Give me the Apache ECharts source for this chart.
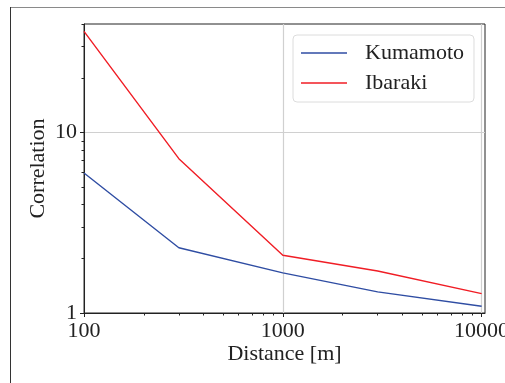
<!DOCTYPE html>
<html>
<head>
<meta charset="utf-8">
<script src="https://cdn.jsdelivr.net/npm/echarts@6/dist/echarts.min.js"></script>
<style>
  html, body { margin: 0; padding: 0; background: #fff; }
  #chart { width: 505px; height: 383px; }
</style>
</head>
<body>
<div id="chart"></div>
<script>
// distance [m] and correlation values
const distances = [100, 300, 1000, 3000, 10000];
const kumamoto = [5.97, 2.30, 1.67, 1.31, 1.09];
const ibaraki = [36.4, 7.17, 2.09, 1.71, 1.28];

const xMajor = [100, 1000, 10000];
const xMinor = [200, 300, 400, 500, 600, 700, 800, 900,
                2000, 3000, 4000, 5000, 6000, 7000, 8000, 9000];
const yMajor = [1, 10];
const yMinor = [2, 3, 4, 5, 6, 7, 8, 9, 20, 30, 40];

const font = 'Liberation Serif';
const xMin = 100, xMax = 10400, yMin = 1, yMax = 40;

const toPairs = (xs, ys) => xs.map((x, i) => [x, ys[i]]);

var myChart = echarts.init(document.getElementById('chart'));
var option = {
    animation: false,
    textStyle: { fontFamily: font },
    graphic: [
        // outer frame of the figure
        { type: 'line', shape: { x1: 10, y1: 7.5, x2: 505, y2: 7.5 }, style: { stroke: '#8a8a8a', lineWidth: 1 } },
        { type: 'line', shape: { x1: 10.5, y1: 7, x2: 10.5, y2: 383 }, style: { stroke: '#333', lineWidth: 1 } }
    ],
    grid: {
        left: 84, right: 20, top: 24, bottom: 70,
        outerBoundsMode: 'none', containLabel: false,
        show: true, borderColor: '#222', borderWidth: 1, backgroundColor: 'transparent'
    },
    legend: {
        orient: 'vertical',
        left: 293, top: 35,
        padding: [7, 10, 8, 8],
        icon: 'rect',
        itemWidth: 46, itemHeight: 1.6, itemGap: 8,
        borderColor: '#dcdcdc', borderWidth: 1, borderRadius: 4,
        backgroundColor: 'rgba(255,255,255,0.8)',
        textStyle: { fontFamily: font, fontSize: 22, color: '#222', padding: [0, 0, 0, 13] },
        data: ['Kumamoto', 'Ibaraki']
    },
    xAxis: [
        {
            type: 'log', logBase: 10, min: xMin, max: xMax,
            name: 'Distance [m]', nameLocation: 'middle', nameGap: 30, nameMoveOverlap: false,
            nameTextStyle: { fontFamily: font, fontSize: 22, color: '#222' },
            axisLine: { show: true, lineStyle: { color: '#222' } },
            axisTick: { show: true, length: 4, customValues: xMajor, lineStyle: { color: '#222' } },
            axisLabel: {
                customValues: xMajor, margin: 7, fontFamily: font, fontSize: 22, color: '#222',
                formatter: (v) => String(v)
            },
            splitLine: { show: true, lineStyle: { color: '#d0d0d0', width: 1.2 } }
        },
        {
            type: 'log', logBase: 10, min: xMin, max: xMax, position: 'bottom',
            axisLine: { show: false },
            axisTick: { show: true, length: 2.5, customValues: xMinor, lineStyle: { color: '#222' } },
            axisLabel: { show: false },
            splitLine: { show: false }
        }
    ],
    yAxis: [
        {
            type: 'log', logBase: 10, min: yMin, max: yMax,
            name: 'Correlation', nameLocation: 'middle', nameGap: 35, nameMoveOverlap: false,
            nameTextStyle: { fontFamily: font, fontSize: 22, color: '#222' },
            axisLine: { show: true, lineStyle: { color: '#222' } },
            axisTick: { show: true, length: 4, customValues: yMajor, lineStyle: { color: '#222' } },
            axisLabel: {
                customValues: yMajor, margin: 7, fontFamily: font, fontSize: 22, color: '#222',
                formatter: (v) => String(v)
            },
            splitLine: { show: true, lineStyle: { color: '#d0d0d0', width: 1.2 } }
        },
        {
            type: 'log', logBase: 10, min: yMin, max: yMax, position: 'left',
            axisLine: { show: false },
            axisTick: { show: true, length: 2.5, customValues: yMinor, lineStyle: { color: '#222' } },
            axisLabel: { show: false },
            splitLine: { show: false }
        }
    ],
    series: [
        {
            name: 'Kumamoto', type: 'line', symbol: 'none',
            lineStyle: { color: '#2f4da3', width: 1.4 }, itemStyle: { color: '#2f4da3' },
            data: toPairs(distances, kumamoto)
        },
        {
            name: 'Ibaraki', type: 'line', symbol: 'none',
            lineStyle: { color: '#f01d25', width: 1.4 }, itemStyle: { color: '#f01d25' },
            data: toPairs(distances, ibaraki)
        }
    ]
};
option && myChart.setOption(option);
</script>
</body>
</html>
